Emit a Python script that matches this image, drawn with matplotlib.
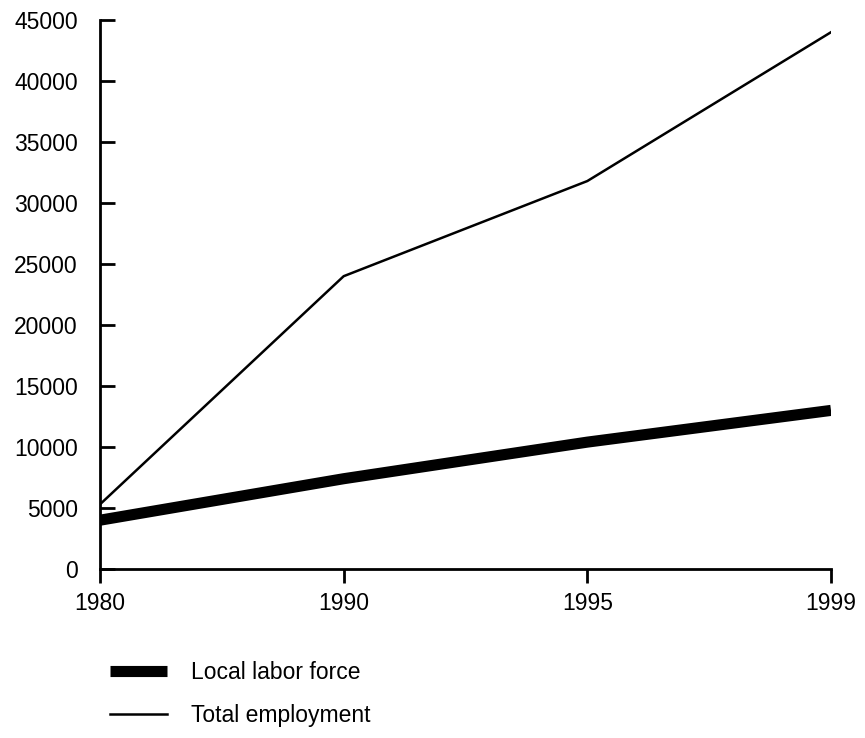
import matplotlib.pyplot as plt
import numpy as np

# data
years = ["1980", "1990", "1995", "1999"]
local_labor = [4000, 7400, 10400, 13000]
total_employment = [5300, 24000, 31800, 44000]
y_ticks = [0, 5000, 10000, 15000, 20000, 25000, 30000, 35000, 40000, 45000]

plt.rcParams["font.family"] = ["Liberation Sans", "DejaVu Sans"]
FS = 16.5

fig = plt.figure(figsize=(8.65, 7.38), dpi=100)
ax = fig.add_axes([100 / 865, 1 - 569 / 738, 731 / 865, 549 / 738])

x = np.arange(len(years))
ax.plot(x, local_labor, color="black", linewidth=8.0, solid_capstyle="butt",
        label="Local labor force")
ax.plot(x, total_employment, color="black", linewidth=1.8,
        label="Total employment")

ax.set_xlim(0, len(years) - 1)
ax.set_ylim(0, 45000)
ax.set_xticks(x)
ax.set_xticklabels(years)
ax.set_yticks(y_ticks)
ax.set_yticklabels([str(v) for v in y_ticks])

for side in ["top", "right"]:
    ax.spines[side].set_visible(False)
for side in ["left", "bottom"]:
    ax.spines[side].set_linewidth(2.0)

ax.tick_params(axis="y", direction="in", length=11, width=2.0, pad=16,
               labelsize=FS)
ax.tick_params(axis="x", direction="out", length=10, width=2.0, pad=6.5,
               labelsize=FS)

fig.legend(loc="upper left", bbox_to_anchor=(89 / 865, 1 - 640 / 738),
           frameon=False, fontsize=FS, handlelength=2.5, handletextpad=1.05,
           labelspacing=0.88)

fig.savefig("out.png", dpi=100)
